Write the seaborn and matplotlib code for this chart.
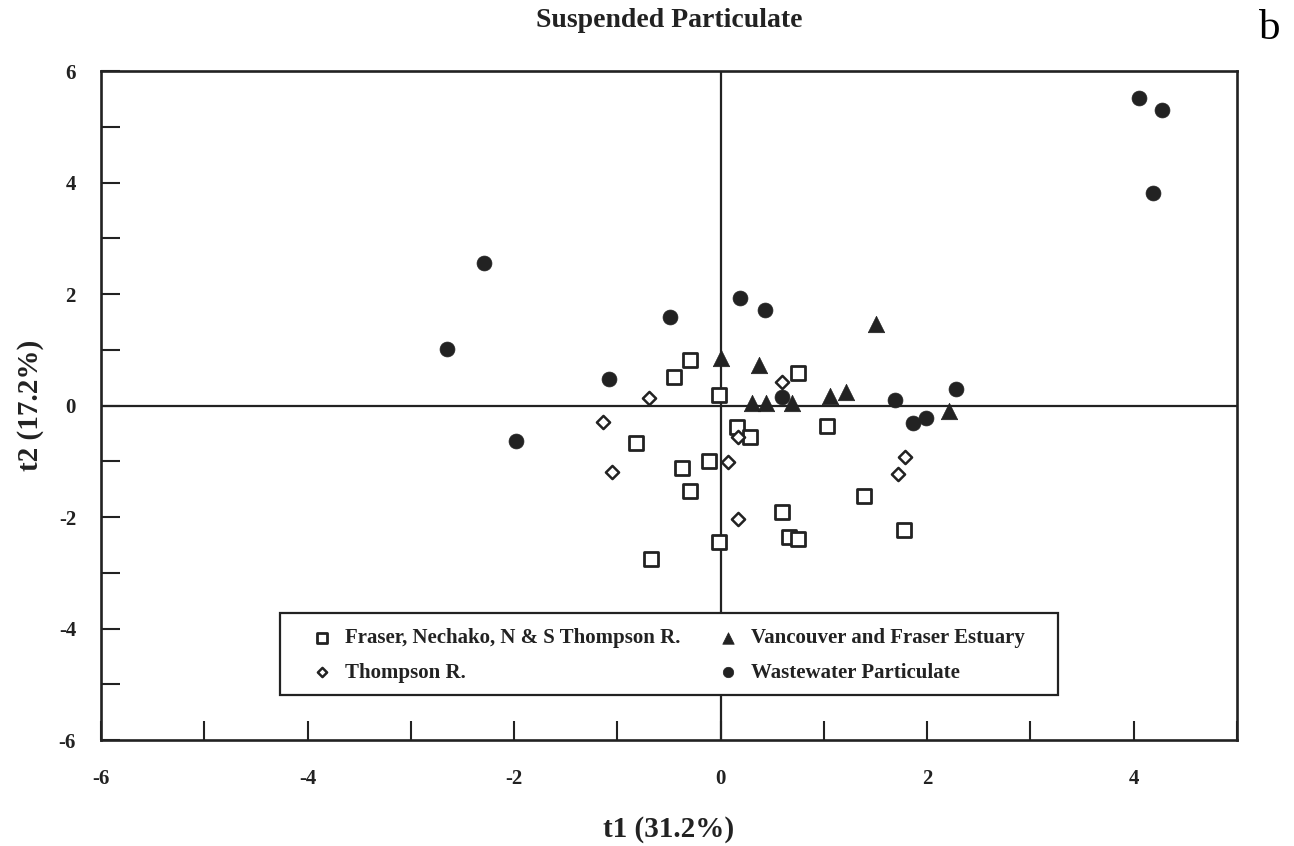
import matplotlib
matplotlib.use("Agg")
import matplotlib.pyplot as plt
from matplotlib.patches import Rectangle
from matplotlib.ticker import MultipleLocator
import seaborn as sns
import pandas as pd

# PCA scores (t1, t2) of suspended particulate samples, by sample group
fraser_t1 = [-0.30, -0.45, -0.02, 0.75, 0.16, 0.28, 1.03, -0.82, -0.37, -0.11,
             -0.30, 0.59, 0.66, 0.75, -0.02, -0.67, 1.39, 1.78]
fraser_t2 = [0.81, 0.52, 0.18, 0.58, -0.38, -0.57, -0.37, -0.68, -1.13, -0.99,
             -1.54, -1.91, -2.35, -2.39, -2.44, -2.75, -1.62, -2.23]

thompson_t1 = [-0.69, -1.14, -1.05, 0.59, 0.17, 0.07, 0.17, 1.79, 1.72]
thompson_t2 = [0.14, -0.29, -1.19, 0.43, -0.57, -1.02, -2.03, -0.93, -1.22]

vancouver_t1 = [0.00, 0.37, 0.30, 0.44, 0.69, 1.06, 1.21, 1.50, 2.21]
vancouver_t2 = [0.86, 0.72, 0.05, 0.05, 0.04, 0.17, 0.25, 1.47, -0.09]

wastewater_t1 = [4.05, 4.27, 4.19, -2.29, -2.65, -1.98, -1.08, -0.49, 0.19,
                 0.43, 0.59, 1.69, 1.86, 1.99, 2.28]
wastewater_t2 = [5.51, 5.30, 3.81, 2.55, 1.01, -0.63, 0.48, 1.58, 1.92,
                 1.72, 0.16, 0.09, -0.32, -0.23, 0.29]

group_names = ["Fraser, Nechako, N & S Thompson R.",
               "Thompson R.",
               "Vancouver and Fraser Estuary",
               "Wastewater Particulate"]

frames = []
for name, xs, ys in zip(group_names,
                        [fraser_t1, thompson_t1, vancouver_t1, wastewater_t1],
                        [fraser_t2, thompson_t2, vancouver_t2, wastewater_t2]):
    frames.append(pd.DataFrame({"t1": xs, "t2": ys, "group": name}))
scores = pd.concat(frames, ignore_index=True)

ink = "#222222"
# marker, size, face colour, edge width per group
styles = {
    group_names[0]: dict(marker="s", s=95, color="white", linewidth=2.0),
    group_names[1]: dict(marker="D", s=45, color="white", linewidth=1.8),
    group_names[2]: dict(marker="^", s=140, color=ink, linewidth=0.5),
    group_names[3]: dict(marker="o", s=115, color=ink, linewidth=0.5),
}

sns.set_theme(style="ticks")
plt.rcParams["font.family"] = ["Liberation Serif", "DejaVu Serif"]
plt.rcParams["axes.unicode_minus"] = False

fig = plt.figure(figsize=(12.94, 8.46), dpi=100)
ax = fig.add_axes([101 / 1294, 1 - 740 / 846, 1136 / 1294, 669 / 846])

for name in group_names:
    sub = scores[scores["group"] == name]
    sns.scatterplot(data=sub, x="t1", y="t2", ax=ax, label=name,
                    edgecolor=ink, zorder=3, **styles[name])

ax.axhline(0, color=ink, lw=1.6, zorder=1)
ax.axvline(0, color=ink, lw=1.6, zorder=1)

ax.set_xlim(-6, 5)
ax.set_ylim(-6, 6)
ax.xaxis.set_major_locator(MultipleLocator(2))
ax.xaxis.set_minor_locator(MultipleLocator(1))
ax.yaxis.set_major_locator(MultipleLocator(2))
ax.yaxis.set_minor_locator(MultipleLocator(1))
ax.tick_params(which="both", direction="in", length=14, width=1.5,
               color=ink, top=False, right=False)
ax.tick_params(axis="x", which="major", pad=21, labelsize=15)
ax.tick_params(axis="y", which="major", pad=18, labelsize=15)
for lab in ax.get_xticklabels() + ax.get_yticklabels():
    lab.set_fontweight("bold")
    lab.set_color(ink)

for sp in ax.spines.values():
    sp.set_linewidth(1.9)
    sp.set_color(ink)

ax.set_xlabel("t1 (31.2%)", fontsize=21, fontweight="bold", color=ink)
ax.set_ylabel("t2 (17.2%)", fontsize=21, fontweight="bold", color=ink)
ax.xaxis.set_label_coords(0.5, -0.113)
ax.yaxis.set_label_coords(-0.05, 0.5)

ax.set_title("Suspended Particulate", fontsize=20, fontweight="bold",
             color=ink, pad=32)
fig.text(1270 / 1294, 1 - 29 / 846, "b", fontsize=31, ha="center",
         va="center", color="black")

# white legend panel with a plain black border
ax.add_patch(Rectangle(((280 - 101) / 1136, 45 / 669), 778 / 1136, 82 / 669,
                       transform=ax.transAxes, facecolor="white",
                       edgecolor=ink, linewidth=1.6, zorder=4))

leg = ax.legend(loc="upper left", ncol=2,
                bbox_to_anchor=((305 - 101) / 1136, (740 - 628) / 669),
                frameon=False, borderpad=0, borderaxespad=0,
                labelspacing=0.7, handlelength=1.6, handletextpad=0.3,
                columnspacing=1.5, markerscale=0.7,
                prop={"family": "Liberation Serif", "weight": "bold", "size": 15})
leg.set_zorder(5)
for t in leg.get_texts():
    t.set_color(ink)

fig.savefig("out.png", dpi=100, facecolor="white")
